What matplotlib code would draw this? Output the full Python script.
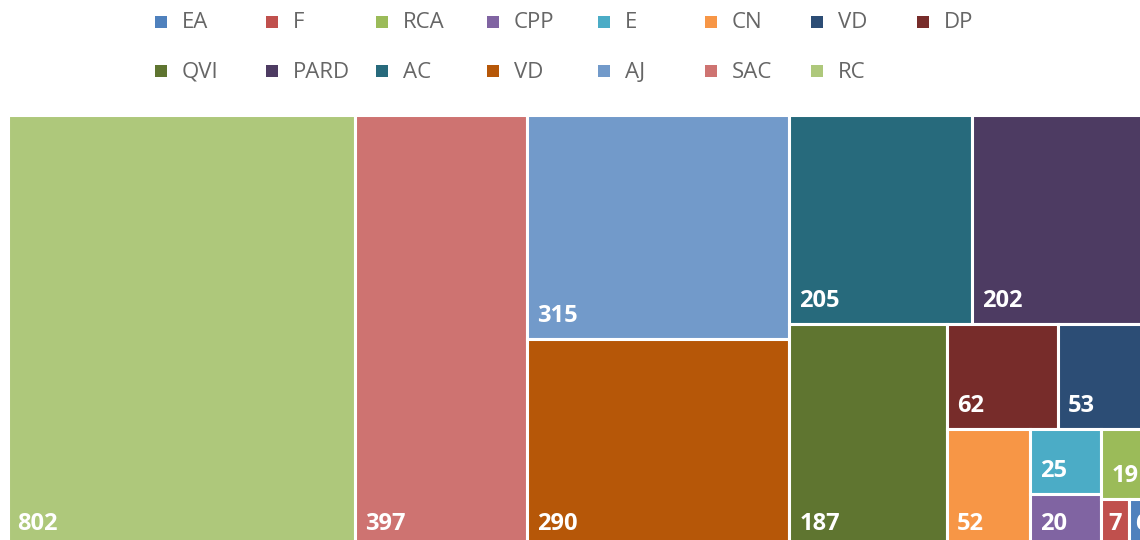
import matplotlib
matplotlib.use("Agg")
import matplotlib.pyplot as plt
from matplotlib.patches import Rectangle

# Categories in legend order (ascending by value)
labels = ["EA", "F", "RCA", "CPP", "E", "CN", "VD", "DP",
          "QVI", "PARD", "AC", "VD", "AJ", "SAC", "RC"]
values = [6, 7, 19, 20, 25, 52, 53, 62, 187, 202, 205, 290, 315, 397, 802]
colors = ["#4f81bd", "#c0504d", "#9bbb59", "#8064a2", "#4bacc6", "#f79646",
          "#2c4d75", "#772c2a", "#5f7530", "#4d3b62", "#276a7c", "#b65708",
          "#729aca", "#ce7371", "#aec87b"]

# Number of tiles placed in each successive strip of the treemap
strip_sizes = [1, 1, 2, 2, 1, 2, 1, 2, 1, 1, 1]

plt.rcParams["font.family"] = ["Open Sans", "DejaVu Sans"]

fig = plt.figure(figsize=(11.4, 5.4), dpi=100)
ax = fig.add_axes([0, 0, 1, 1])
ax.set_xlim(0, 1140)
ax.set_ylim(540, 0)
ax.axis("off")


def strip_layout(vals, sizes, x, y, w, h):
    """Lay out values (descending) in strips; each strip runs along the
    shorter side of the remaining rectangle."""
    rects = []
    i = 0
    remaining = sum(vals)
    for n in sizes:
        group = vals[i:i + n]
        gsum = sum(group)
        if w >= h:
            cw = w * gsum / remaining
            yy = y
            for v in group:
                ch = h * v / gsum
                rects.append((x, yy, cw, ch))
                yy += ch
            x += cw
            w -= cw
        else:
            rh = h * gsum / remaining
            xx = x
            for v in group:
                rw = w * v / gsum
                rects.append((xx, y, rw, rh))
                xx += rw
            y += rh
            h -= rh
        remaining -= gsum
        i += n
    return rects


order = sorted(range(len(values)), key=lambda k: -values[k])
sorted_vals = [values[k] for k in order]
rects = strip_layout(sorted_vals, strip_sizes, 7.5, 114.5, 1145, 432)

for k, (rx, ry, rw, rh) in zip(order, rects):
    ax.add_patch(Rectangle((rx, ry), rw, rh, facecolor=colors[k],
                           edgecolor="white", linewidth=2.2))
    pad = min(10, 0.25 * rw)
    ax.text(rx + pad, ry + rh - 17, str(values[k]), color="white",
            fontsize=17, fontweight="bold", va="baseline", ha="left",
            clip_on=True)

# Legend: two rows of eight entries
col_x = [161, 272, 382, 493, 604, 711, 817, 923]
row_y = [22, 71]
for idx, (lab, col) in enumerate(zip(labels, colors)):
    r, c = divmod(idx, 8)
    cx, cy = col_x[c], row_y[r]
    ax.add_patch(Rectangle((cx - 6, cy - 6), 12, 12, facecolor=col,
                           edgecolor="none"))
    ax.text(cx + 21, cy + 1, lab, color="#666666", fontsize=16,
            va="center", ha="left")

fig.savefig("out.png", dpi=100)
